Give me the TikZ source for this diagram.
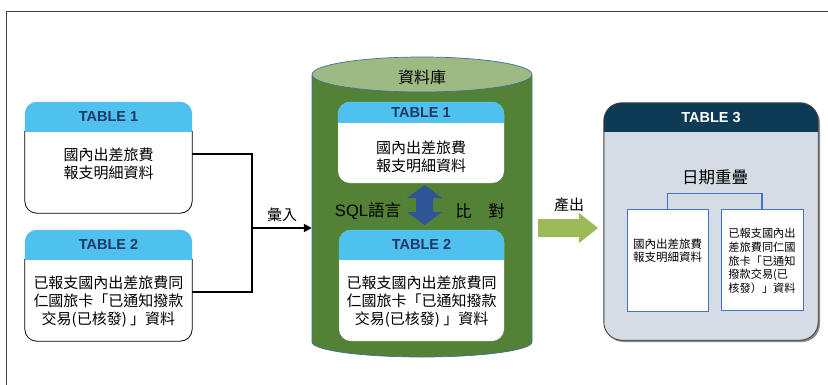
\documentclass[tikz,border=0pt]{standalone}
\usepackage{fontspec}
\setmainfont{Liberation Sans}
\newfontfamily\cjk{Noto Sans CJK TC}
\usetikzlibrary{calc,arrows.meta}
\definecolor{hdrblue}{HTML}{4EC1EF}
\definecolor{hdrtext}{HTML}{1F3864}
\definecolor{dbgreen}{HTML}{538135}
\definecolor{dbtop}{HTML}{9DBA82}
\definecolor{dbline}{HTML}{41719C}
\definecolor{dblue}{HTML}{2F5597}
\definecolor{arrgreen}{HTML}{9BBB59}
\definecolor{navy}{HTML}{0D3A54}
\definecolor{tthree}{HTML}{D6DCE5}
\definecolor{brkblue}{HTML}{4472C4}
\newcommand{\hdrfill}[4]{%
  \begin{scope}
    \clip ($(#1.north west)+(-3,-3)$) rectangle ($(#1.north east)+(3,#2)$);
    \fill[#4, rounded corners=#3] (#1.north west) rectangle (#1.south east);
  \end{scope}}
\newcommand{\bodyline}[3]{%
  \begin{scope}
    \clip ($(#1.north west)+(-3,#2)$) rectangle ($(#1.south east)+(3,3)$);
    \draw[line width=0.8pt, rounded corners=#3] (#1.north west) rectangle (#1.south east);
  \end{scope}}
\begin{document}
\begin{tikzpicture}[x=1pt,y=-1pt,
  tblbox/.style={rectangle, inner sep=0pt, minimum width=167pt, minimum height=111pt},
  hdrlbl/.style={font=\bfseries\fontsize{14.5}{16}\selectfont, text=hdrtext, inner sep=0pt},
  bodytxt/.style={font=\cjk\fontsize{15}{18}\selectfont, align=center, inner sep=0pt},
  lbl/.style={font=\cjk\fontsize{15}{18}\selectfont, inner sep=0pt},
  conn/.style={line width=2pt, line join=miter},
  smalltxt/.style={font=\cjk\fontsize{11.3}{13.2}\selectfont, inner sep=0pt},
  ibox/.style={rectangle, draw=brkblue, line width=0.9pt, fill=white, inner sep=0pt}
]
\useasboundingbox (0,0) rectangle (828,384);
\fill[white] (0,0) rectangle (828,384);
\draw[line width=1pt, black!75] (6,386) -- (6,11) -- (830,11);

% ---------- left tables ----------
\node[tblbox, fill=white, rounded corners=12pt] (t1) at (108.5,157.5) {};
\hdrfill{t1}{30}{12pt}{hdrblue}
\bodyline{t1}{30}{12pt}
\node[hdrlbl] (t1h) at ($(t1.north)+(0,15)$) {TABLE 1};
\node[bodytxt] (t1b) at (108.5,164) {國內出差旅費\\報支明細資料};

\node[tblbox, fill=white, rounded corners=12pt] (t2) at (108.5,285.5) {};
\hdrfill{t2}{30}{12pt}{hdrblue}
\bodyline{t2}{30}{12pt}
\node[hdrlbl] (t2h) at ($(t2.north)+(0,15)$) {TABLE 2};
\node[bodytxt] (t2b) at (108.5,302) {已報支國內出差旅費同\\仁國旅卡「已通知撥款\\交易(已核發) 」資料};

% ---------- database cylinder ----------
\node[inner sep=0pt, minimum width=220pt, minimum height=300pt] (db) at (422,207) {};
\fill[dbgreen] (312,75) -- (312,342) arc[start angle=180, end angle=360, x radius=110pt, y radius=15pt] -- (532,75) -- cycle;
\draw[dbline, line width=0.7pt] (312,75) -- (312,342) arc[start angle=180, end angle=360, x radius=110pt, y radius=15pt] -- (532,75);
\draw[dbline, line width=0.7pt, fill=dbtop] (422,74.5) ellipse[x radius=110pt, y radius=17.5pt];
\node[lbl, font=\cjk\fontsize{16}{18}\selectfont] (dbl) at (422,77) {資料庫};

\node[rectangle, inner sep=0pt, minimum width=166pt, minimum height=81pt, fill=white, rounded corners=12pt] (i1) at (421,142.5) {};
\hdrfill{i1}{21}{12pt}{hdrblue}
\node[hdrlbl] (i1h) at ($(i1.north)+(0,10.5)$) {TABLE 1};
\node[bodytxt] (i1b) at (421,156.5) {國內出差旅費\\報支明細資料};

\node[rectangle, inner sep=0pt, minimum width=165pt, minimum height=111pt, fill=white, rounded corners=12pt] (i2) at (421.5,285.5) {};
\hdrfill{i2}{30}{12pt}{hdrblue}
\node[hdrlbl] (i2h) at ($(i2.north)+(0,15)$) {TABLE 2};
\node[bodytxt] (i2b) at (421.5,302) {已報支國內出差旅費同\\仁國旅卡「已通知撥款\\交易(已核發) 」資料};

% double arrow
\fill[dblue] (424.5,185) -- (442,198) -- (433,198) -- (433,212) -- (442,212) -- (424.5,225)
  -- (407,212) -- (416,212) -- (416,198) -- (407,198) -- cycle;
\node[lbl, font=\fontsize{16.5}{18}\selectfont] (sql) at (368,211) {SQL{\cjk 語言}};
\node[lbl, font=\cjk\fontsize{16.5}{18}\selectfont] (cmp) at (480,211) {比\hspace{1em}對};

% ---------- connectors ----------
\coordinate (j) at (252,228);
\draw[conn] ([yshift=3.5pt]t1.east) -| (j);
\draw[conn] ([yshift=-6.5pt]t2.east) -| (j);
\draw[conn, -{Triangle[length=8pt,width=8pt]}] (j) -- (j -| db.west);
\node[lbl] (imp) at (282,215) {彙入};

% ---------- output arrow ----------
\fill[arrgreen] (538,219) -- (579,219) -- (579,213) -- (598,228) -- (579,243) -- (579,237) -- (538,237) -- cycle;
\node[lbl] (outl) at (569,205) {產出};

% ---------- table 3 ----------
\node[rectangle, inner sep=0pt, minimum width=214pt, minimum height=237pt] (t3) at (711,221.5) {};
\fill[black!45, rounded corners=18pt] ($(t3.north west)+(1.8,1.8)$) rectangle ($(t3.south east)+(1.8,1.8)$);
\fill[tthree, rounded corners=18pt] (t3.north west) rectangle (t3.south east);
\hdrfill{t3}{29}{18pt}{navy}
\draw[black!75, line width=0.9pt, rounded corners=18pt] (t3.north west) rectangle (t3.south east);
\node[hdrlbl, text=white] (t3h) at ($(t3.north)+(0,14.5)$) {TABLE 3};
\node[lbl, font=\cjk\fontsize{16.5}{18}\selectfont] (ov) at (715,177) {日期重疊};

\node[ibox, minimum width=81pt, minimum height=102pt] (b1) at (667.5,260) {};
\node[ibox, minimum width=82pt, minimum height=101pt] (b2) at (762,259.5) {};
\draw[brkblue, line width=1.5pt] (b1.north) -- ++(0,-15) -| (b2.north);
\node[smalltxt, align=center, font=\cjk\fontsize{11.5}{12.8}\selectfont] (b1t) at (667.5,251) {國內出差旅費\\報支明細資料};
\node[smalltxt, align=left, font=\cjk\fontsize{11.2}{13.8}\selectfont] (b2t) at (762,261) {已報支國內出\\差旅費同仁國\\旅卡「已通知\\撥款交易(已\\核發）」資料};
\end{tikzpicture}
\end{document}
